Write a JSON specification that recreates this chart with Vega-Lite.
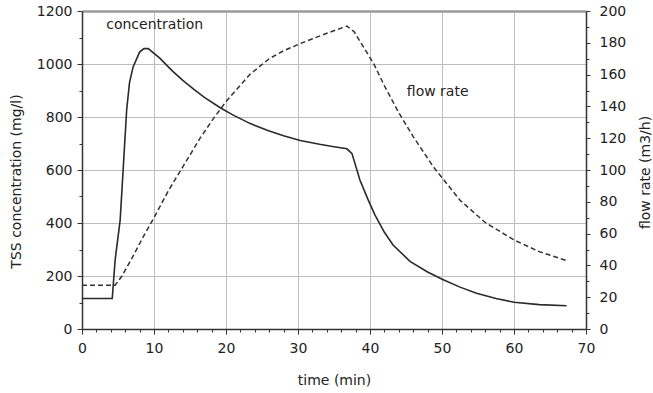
{
  "$schema": "https://vega.github.io/schema/vega-lite/v6.json",
  "width": 504,
  "height": 318,
  "autosize": {"type": "none"},
  "padding": {"left": 82, "top": 11, "right": 67, "bottom": 64},
  "background": "white",
  "config": {
    "view": {"stroke": null},
    "font": "DejaVu Sans",
    "axis": {
      "labelFont": "DejaVu Sans",
      "labelFontSize": 14,
      "labelColor": "#222",
      "titleFont": "DejaVu Sans",
      "titleFontSize": 14,
      "titleFontWeight": "normal",
      "titleColor": "#222",
      "domainColor": "#333",
      "domainWidth": 1.5,
      "tickColor": "#333",
      "gridColor": "#bdbdbd",
      "labelOverlap": false,
      "labelFlush": false
    }
  },
  "datasets": {
    "conc": [
      {"time": 0, "tss": 115}, {"time": 4.2, "tss": 115}, {"time": 4.6, "tss": 260},
      {"time": 5.3, "tss": 411}, {"time": 5.8, "tss": 640}, {"time": 6.2, "tss": 826},
      {"time": 6.6, "tss": 930}, {"time": 7.1, "tss": 989}, {"time": 8.0, "tss": 1045},
      {"time": 8.6, "tss": 1058}, {"time": 9.2, "tss": 1058}, {"time": 10.8, "tss": 1022},
      {"time": 12.5, "tss": 975}, {"time": 14, "tss": 938}, {"time": 15.5, "tss": 905},
      {"time": 17, "tss": 874}, {"time": 19.2, "tss": 835}, {"time": 21, "tss": 807},
      {"time": 23.3, "tss": 776}, {"time": 26, "tss": 747}, {"time": 28, "tss": 729},
      {"time": 30.3, "tss": 711}, {"time": 33, "tss": 697}, {"time": 35, "tss": 688},
      {"time": 36.8, "tss": 680}, {"time": 37.5, "tss": 662}, {"time": 38.6, "tss": 562},
      {"time": 39.7, "tss": 490}, {"time": 40.7, "tss": 430}, {"time": 42, "tss": 365},
      {"time": 43.2, "tss": 317}, {"time": 45.6, "tss": 254}, {"time": 48, "tss": 215},
      {"time": 50.1, "tss": 187}, {"time": 52.5, "tss": 158}, {"time": 54.8, "tss": 135},
      {"time": 57.5, "tss": 115}, {"time": 60, "tss": 101}, {"time": 63.5, "tss": 92},
      {"time": 67.3, "tss": 88}
    ],
    "flow": [
      {"time": 0, "q": 27.5}, {"time": 4.6, "q": 27.5}, {"time": 5.5, "q": 33},
      {"time": 7, "q": 45}, {"time": 8.5, "q": 58}, {"time": 10, "q": 70},
      {"time": 12, "q": 87}, {"time": 14, "q": 102}, {"time": 16.4, "q": 120},
      {"time": 18.2, "q": 132}, {"time": 20, "q": 143}, {"time": 23.3, "q": 160},
      {"time": 26, "q": 170}, {"time": 28, "q": 175}, {"time": 30.3, "q": 179.5},
      {"time": 34, "q": 186}, {"time": 36.8, "q": 190.5}, {"time": 37.8, "q": 187},
      {"time": 38.6, "q": 181}, {"time": 40.5, "q": 167}, {"time": 42, "q": 153},
      {"time": 44, "q": 136}, {"time": 46, "q": 121}, {"time": 48.8, "q": 102},
      {"time": 52.5, "q": 81}, {"time": 56, "q": 67}, {"time": 60, "q": 56},
      {"time": 63.6, "q": 48.5}, {"time": 67.3, "q": 43}
    ],
    "labels": [
      {"time": 10.1, "tss": 1146, "text": "concentration"},
      {"time": 49.4, "tss": 893, "text": "flow rate"}
    ]
  },
  "layer": [
    {
      "data": {"name": "conc"},
      "mark": {"type": "line", "color": "#2a2a2a", "strokeWidth": 1.6},
      "encoding": {
        "x": {
          "field": "time", "type": "quantitative",
          "scale": {"domain": [0, 70], "nice": false},
          "axis": {
            "title": "time (min)",
            "titleX": 252, "titleY": 51, "titleBaseline": "middle",
            "values": [0,2,4,6,8,10,12,14,16,18,20,22,24,26,28,30,32,34,36,38,40,42,44,46,48,50,52,54,56,58,60,62,64,66,68,70],
            "tickCount": 500,
            "format": "d",
            "labelOverlap": false,
            "labelExpr": "datum.value % 10 === 0 ? datum.label : ''",
            "labelPadding": 7,
            "tickSize": {"condition": {"test": "datum.value % 10 === 0", "value": 5}, "value": 3},
            "gridOpacity": {"condition": {"test": "datum.value % 10 === 0", "value": 1}, "value": 0},
            "grid": true
          }
        },
        "y": {
          "field": "tss", "type": "quantitative",
          "scale": {"domain": [0, 1200], "nice": false},
          "axis": {
            "title": "TSS concentration (mg/l)",
            "titleX": -66, "titleY": 170, "titleBaseline": "middle", "titleAngle": -90,
            "values": [0,100,200,300,400,500,600,700,800,900,1000,1100,1200],
            "tickCount": 500,
            "format": "d",
            "labelOverlap": false,
            "labelExpr": "datum.value % 200 === 0 ? datum.label : ''",
            "labelPadding": 5,
            "tickSize": {"condition": {"test": "datum.value % 200 === 0", "value": 5}, "value": 3},
            "gridOpacity": {"condition": {"test": "datum.value % 200 === 0", "value": 1}, "value": 0},
            "gridWidth": {"condition": {"test": "datum.value === 1200", "value": 2.5}, "value": 1},
            "gridColor": {"condition": {"test": "datum.value === 1200", "value": "#9a9a9a"}, "value": "#bdbdbd"},
            "grid": true
          }
        }
      }
    },
    {
      "data": {"name": "flow"},
      "mark": {"type": "line", "color": "#333", "strokeWidth": 1.5, "strokeDash": [5, 3]},
      "encoding": {
        "x": {"field": "time", "type": "quantitative"},
        "y": {
          "field": "q", "type": "quantitative",
          "scale": {"domain": [0, 200], "nice": false},
          "axis": {
            "orient": "right",
            "title": "flow rate (m3/h)",
            "titleX": 59, "titleY": 161, "titleBaseline": "middle", "titleAngle": -90,
            "values": [0,10,20,30,40,50,60,70,80,90,100,110,120,130,140,150,160,170,180,190,200],
            "tickCount": 500,
            "format": "d",
            "labelOverlap": false,
            "labelExpr": "datum.value % 20 === 0 ? datum.label : ''",
            "labelPadding": 9,
            "tickSize": {"condition": {"test": "datum.value % 20 === 0", "value": 4}, "value": 3},
            "grid": false
          }
        }
      }
    },
    {
      "data": {"name": "labels"},
      "mark": {"type": "text", "font": "DejaVu Sans", "fontSize": 14, "color": "#222", "align": "center", "baseline": "middle"},
      "encoding": {
        "x": {"field": "time", "type": "quantitative"},
        "y": {"field": "tss", "type": "quantitative", "scale": {"domain": [0, 1200], "nice": false}, "axis": null},
        "text": {"field": "text"}
      }
    }
  ],
  "resolve": {"scale": {"y": "independent"}}
}
